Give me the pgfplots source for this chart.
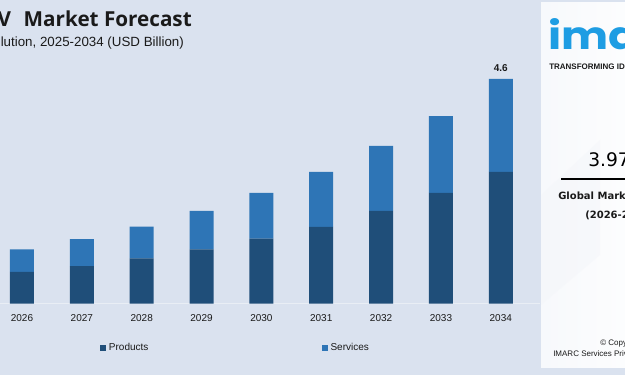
\documentclass[border=0pt]{standalone}
\usepackage{pgfplots}
\pgfplotsset{compat=1.18}
\usepackage{fontspec}
\setmainfont{Liberation Sans}
\newfontfamily\titlefont{Open Sans}
\newfontfamily\logofont{Poppins}
\newfontfamily\widefont{DejaVu Sans}
\definecolor{bg}{HTML}{DAE2EF}
\definecolor{prod}{HTML}{1F4E79}
\definecolor{serv}{HTML}{2E75B6}
\definecolor{logoblue}{HTML}{1E9DE3}
\definecolor{txt}{HTML}{1A1A1A}
\pgfplotsset{sqleg/.style={legend image code/.code={\fill[##1] (0pt,-2.3pt) rectangle (4.6pt,2.3pt);}}}
\begin{document}
\begin{tikzpicture}[x=0.75pt,y=0.75pt]
\clip (0,0) rectangle (625,375);
\fill[bg] (0,0) rectangle (625,375);
% right panel
\shade[left color=white!78!bg, right color=white!94!bg] (541,7) rectangle (630,372);
\fill[white!70!bg, opacity=0.5] (541,180) -- (600,235) -- (600,120) -- (541,70) -- cycle;
% title
\node[anchor=base east, inner sep=0pt, text=txt, font=\titlefont\bfseries\fontsize{15.5}{18}\selectfont] at (192,348) {V\kern9.5pt Market Forecast};
\node[anchor=base west, inner sep=0pt, text=txt, font=\fontsize{10}{12}\selectfont] at (0.5,328) {lution, 2025-2034 (USD Billion)};
% logo
\node[anchor=base west, inner sep=0pt, text=logoblue, font=\logofont\bfseries\fontsize{29}{32}\selectfont] at (548,325) {\scalebox{1.15}[1]{imarc}};
\node[anchor=base west, inner sep=0pt, text=txt, font=\bfseries\fontsize{6}{7}\selectfont] at (549,305) {TRANSFORMING IDEAS INTO IMPACT};
% CAGR box
\node[anchor=base west, inner sep=0pt, text=black, font=\widefont\fontsize{14}{16}\selectfont] at (588,208) {3.97\%};
\draw[black, line width=1.9pt] (561,196) -- (630,196);
\node[anchor=base west, inner sep=0pt, text=txt, font=\widefont\bfseries\fontsize{7.5}{9}\selectfont] at (558,175) {Global Market CAGR};
\node[anchor=base west, inner sep=0pt, text=txt, font=\widefont\bfseries\fontsize{7.5}{9}\selectfont] at (585,156) {(2026-2034)};
% copyright
\node[anchor=base west, inner sep=0pt, text=txt, font=\fontsize{6}{7}\selectfont] at (600,29) {\textcopyright\ Copyright};
\node[anchor=base west, inner sep=0pt, text=txt, font=\fontsize{6}{7}\selectfont] at (553,18) {IMARC Services Private Limited.};
\begin{axis}[
  at={(0pt,53.475pt)}, anchor=south west,
  scale only axis, width=405pt, height=183.225pt,
  xmin=-0.3676, xmax=8.655, ymin=0, ymax=5,
  ybar stacked, bar width=18pt,
  axis line style={draw=none},
  xtick={0,...,8},
  xticklabels={2026,2027,2028,2029,2030,2031,2032,2033,2034},
  ytick=\empty,
  major tick length=0pt,
  /pgf/number format/assume math mode=true,
  xticklabel style={anchor=center, yshift=-10.5pt, text=txt, font=\fontsize{7.5}{9}\selectfont},
  legend columns=2,
  legend style={at={(axis description cs:0.185,-0.1813)}, anchor=west, draw=none, fill=none,
    inner sep=0pt, font=\fontsize{7.5}{9}\selectfont, text=txt,
    /tikz/every even column/.append style={column sep=128pt}},
  clip=false,
]
\addplot[fill=prod, draw=none, sqleg] coordinates {(0,0.65)(1,0.77)(2,0.93)(3,1.11)(4,1.33)(5,1.57)(6,1.90)(7,2.27)(8,2.70)};
\addlegendentry{Products}
\addplot[fill=serv, draw=none, sqleg] coordinates {(0,0.46)(1,0.55)(2,0.65)(3,0.79)(4,0.94)(5,1.13)(6,1.33)(7,1.57)(8,1.90)};
\addlegendentry{Services}
\draw[white!40!bg, line width=0.8pt] (axis cs:-0.3676,0) -- (axis cs:8.655,0);
\node[anchor=south, inner sep=0pt, yshift=5pt, text=txt, font=\bfseries\fontsize{7.5}{9}\selectfont] at (axis cs:8,4.6) {4.6};
\end{axis}
\end{tikzpicture}
\end{document}
